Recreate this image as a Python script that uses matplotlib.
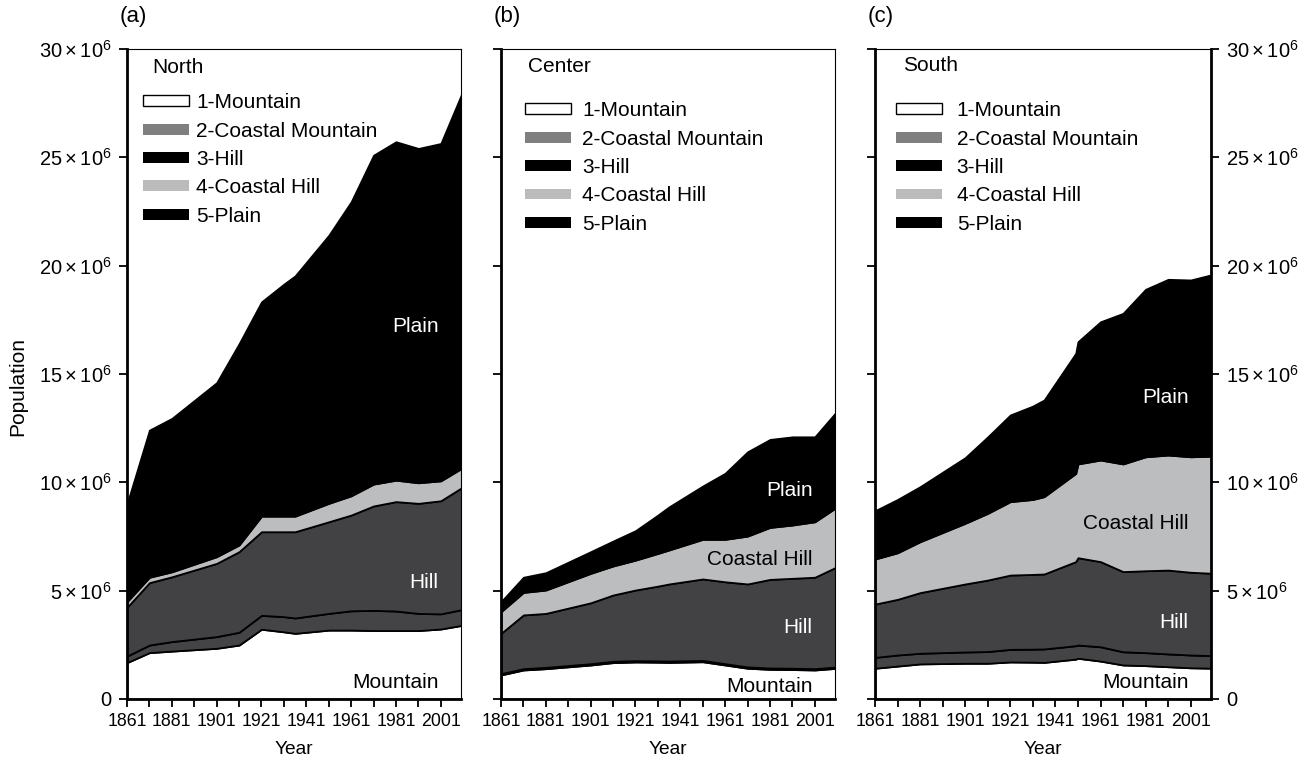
import matplotlib
matplotlib.use("Agg")
import matplotlib.pyplot as plt
from matplotlib.patches import Patch
from matplotlib.ticker import FixedLocator, FuncFormatter

# 人口单位：百万
years = [1861, 1871, 1881, 1901, 1911, 1921, 1931, 1936, 1951, 1961, 1971, 1981, 1991, 2001, 2011]
years_south = [1861, 1871, 1881, 1901, 1911, 1921, 1931, 1936, 1950, 1951, 1961, 1971, 1981, 1991, 2001, 2011]

zone_names = ["1-Mountain", "2-Coastal Mountain", "3-Hill", "4-Coastal Hill", "5-Plain"]

north_mountain = [1.68, 2.14, 2.21, 2.34, 2.49, 3.22, 3.10, 3.03, 3.18, 3.18, 3.16, 3.16, 3.16, 3.23, 3.41]
north_coastal_mountain = [0.30, 0.35, 0.44, 0.54, 0.59, 0.64, 0.70, 0.71, 0.77, 0.89, 0.93, 0.90, 0.79, 0.70, 0.73]
north_hill = [2.25, 2.88, 2.99, 3.38, 3.72, 3.86, 3.92, 3.98, 4.23, 4.42, 4.82, 5.05, 5.08, 5.22, 5.66]
north_coastal_hill = [0.26, 0.25, 0.23, 0.31, 0.31, 0.72, 0.72, 0.72, 0.85, 0.89, 1.01, 0.99, 0.95, 0.92, 0.89]
north_plain = [4.51, 6.79, 7.08, 8.03, 9.29, 9.89, 10.71, 11.09, 12.37, 13.57, 15.18, 15.62, 15.43, 15.57, 17.41]

center_mountain = [1.11, 1.34, 1.40, 1.57, 1.68, 1.71, 1.70, 1.69, 1.72, 1.57, 1.42, 1.37, 1.36, 1.34, 1.42]
center_coastal_mountain = [0.06, 0.06, 0.06, 0.06, 0.06, 0.06, 0.06, 0.06, 0.06, 0.06, 0.06, 0.06, 0.06, 0.06, 0.06]
center_hill = [1.86, 2.48, 2.49, 2.81, 3.06, 3.26, 3.45, 3.56, 3.76, 3.78, 3.83, 4.09, 4.15, 4.22, 4.63]
center_coastal_hill = [1.00, 1.04, 1.08, 1.36, 1.34, 1.38, 1.51, 1.57, 1.83, 1.96, 2.21, 2.40, 2.46, 2.56, 2.76]
center_plain = [0.46, 0.70, 0.80, 1.00, 1.15, 1.36, 1.77, 1.99, 2.46, 3.05, 3.89, 4.06, 4.07, 3.92, 4.43]

south_mountain = [1.42, 1.52, 1.62, 1.65, 1.65, 1.71, 1.70, 1.69, 1.84, 1.88, 1.75, 1.57, 1.54, 1.49, 1.44, 1.42]
south_coastal_mountain = [0.50, 0.51, 0.49, 0.52, 0.54, 0.58, 0.60, 0.62, 0.62, 0.61, 0.66, 0.61, 0.60, 0.59, 0.59, 0.58]
south_hill = [2.46, 2.57, 2.80, 3.14, 3.30, 3.43, 3.45, 3.46, 3.88, 4.03, 3.93, 3.70, 3.78, 3.87, 3.82, 3.80]
south_coastal_hill = [2.08, 2.15, 2.35, 2.80, 3.08, 3.39, 3.46, 3.57, 4.07, 4.33, 4.69, 4.97, 5.26, 5.31, 5.33, 5.41]
south_plain = [2.23, 2.46, 2.54, 3.03, 3.53, 4.00, 4.31, 4.46, 5.54, 5.64, 6.38, 6.95, 7.73, 8.11, 8.16, 8.39]

fill_colors = ["white", "#444446", "#424244", "#bcbdbf", "black"]
legend_colors = ["white", "#7f7f7f", "black", "#bbbbbb", "black"]

plt.rcParams["font.family"] = ["Liberation Sans", "DejaVu Sans"]
plt.rcParams["mathtext.fontset"] = "custom"
plt.rcParams["mathtext.rm"] = "Liberation Sans"
plt.rcParams["mathtext.it"] = "Liberation Sans:italic"

TEXT_SIZE = 15


def y_fmt(v, pos):
    if v == 0:
        return "0"
    return r"$\mathrm{%d\times10^{6}}$" % round(v)


def draw_panel(ax, x, layers, region, tag, area_labels, legend_anchor, text_pad, title_xy):
    ax.stackplot(x, *layers, colors=fill_colors, edgecolor="black", linewidth=1.3)

    ax.set_xlim(1861, 2010)
    ax.set_ylim(0, 30)
    ax.xaxis.set_major_locator(FixedLocator(range(1861, 2002, 20)))
    ax.xaxis.set_minor_locator(FixedLocator(range(1871, 2002, 20)))
    ax.yaxis.set_major_locator(FixedLocator(range(0, 31, 5)))
    ax.yaxis.set_major_formatter(FuncFormatter(y_fmt))
    ax.tick_params(axis="x", which="both", direction="out", length=6, width=1.3, pad=4, labelsize=12.8)
    ax.tick_params(axis="y", direction="out", length=6, width=1.3, pad=5, labelsize=14.5)
    ax.set_xlabel("Year", fontsize=13.8, labelpad=8)

    for side in ["left", "bottom"]:
        ax.spines[side].set_linewidth(2.0)
    for side in ["top", "right"]:
        ax.spines[side].set_linewidth(0.8)

    # 区域内的文字标注
    for text, ypos, color in area_labels:
        ax.text(2000, ypos, text, ha="right", va="center", color=color, fontsize=TEXT_SIZE)

    handles = [Patch(facecolor=legend_colors[0], edgecolor="black", linewidth=1.0)]
    handles += [Patch(facecolor=c, edgecolor="none") for c in legend_colors[1:]]
    ax.legend(handles, zone_names, loc="upper left", bbox_to_anchor=legend_anchor,
              frameon=False, fontsize=TEXT_SIZE, handlelength=2.2, handleheight=0.43,
              handletextpad=text_pad, labelspacing=0.45, borderpad=0, borderaxespad=0)
    ax.text(title_xy[0], title_xy[1], region, transform=ax.transAxes,
            ha="left", va="center", fontsize=TEXT_SIZE)
    ax.text(-0.022, 1.05, tag, transform=ax.transAxes, ha="left", va="center", fontsize=16)


fig = plt.figure(figsize=(13.09, 7.6), dpi=100)
ax_a = fig.add_axes([127 / 1309, 61 / 760, 334 / 1309, 650 / 760])
ax_b = fig.add_axes([501 / 1309, 61 / 760, 334 / 1309, 650 / 760])
ax_c = fig.add_axes([875 / 1309, 61 / 760, 336 / 1309, 650 / 760])

draw_panel(ax_a, years,
           [north_mountain, north_coastal_mountain, north_hill, north_coastal_hill, north_plain],
           "North", "(a)",
           [("Plain", 17.2, "white"), ("Hill", 5.4, "white"), ("Mountain", 0.74, "black")],
           (0.048, 0.932), 0.35, (0.075, 0.972))
draw_panel(ax_b, years,
           [center_mountain, center_coastal_mountain, center_hill, center_coastal_hill, center_plain],
           "Center", "(b)",
           [("Plain", 9.6, "white"), ("Coastal Hill", 6.45, "black"),
            ("Hill", 3.28, "white"), ("Mountain", 0.6, "black")],
           (0.072, 0.9195), 0.55, (0.08, 0.973))
draw_panel(ax_c, years_south,
           [south_mountain, south_coastal_mountain, south_hill, south_coastal_hill, south_plain],
           "South", "(c)",
           [("Plain", 13.9, "white"), ("Coastal Hill", 8.1, "black"),
            ("Hill", 3.55, "white"), ("Mountain", 0.74, "black")],
           (0.062, 0.9195), 0.72, (0.083, 0.974))

ax_a.set_ylabel("Population", fontsize=TEXT_SIZE)
ax_a.yaxis.set_label_coords(-0.30, 0.48)

ax_b.tick_params(axis="y", labelleft=False)

ax_c.tick_params(axis="y", left=True, labelleft=False, right=True, labelright=True)
ax_c.spines["right"].set_linewidth(2.0)

fig.savefig("out.png", dpi=100)
